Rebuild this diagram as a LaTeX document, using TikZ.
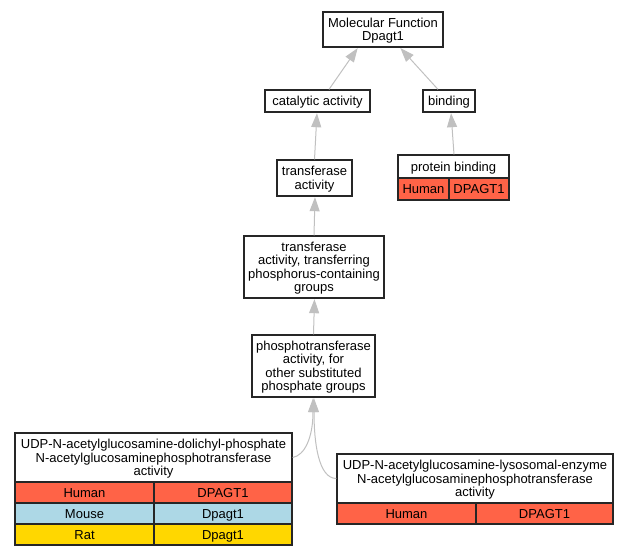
\documentclass[tikz,border=0pt]{standalone}
\usepackage{fontspec}
\setmainfont{Liberation Sans}
\usetikzlibrary{arrows.meta}
\definecolor{humanc}{HTML}{FF6347}
\definecolor{mousec}{HTML}{ADD8E6}
\definecolor{ratc}{HTML}{FFD700}
\definecolor{edgec}{HTML}{C0C0C0}
\newcommand\lowtxt[1]{\raisebox{-1.8pt}[\height][\depth]{\begin{tabular}{@{}c@{}}#1\end{tabular}}}
\tikzset{
  box/.style={draw=black!85, line width=1.2pt, fill=white, align=center, inner sep=0pt,
    font=\fontsize{13}{13.6}\selectfont},
  cell/.style={box},
  isa/.style={draw=edgec, line width=1pt, -{Triangle[length=14pt,width=10pt]}, shorten >=0.6pt}
}
\begin{document}
\begin{tikzpicture}[x=1pt,y=-1pt]
\useasboundingbox (0,0) rectangle (628,557);
% plain term nodes
\node[box, minimum width=120pt, minimum height=35pt] (mf) at (383,29.5) {\lowtxt{Molecular Function\\Dpagt1}};
\node[box, minimum width=105pt, minimum height=22pt] (cat) at (317.5,101) {\lowtxt{catalytic activity}};
\node[box, minimum width=52pt, minimum height=22pt] (bind) at (449,101) {\lowtxt{binding}};
\node[box, minimum width=75pt, minimum height=36pt] (tra) at (314.5,178) {\lowtxt{transferase\\activity}};
\node[box, minimum width=140pt, minimum height=62pt] (trp) at (314,267) {\lowtxt{transferase\\activity, transferring\\phosphorus-containing\\groups}};
\node[box, minimum width=123pt, minimum height=62pt] (pho) at (313.5,366) {\lowtxt{phosphotransferase\\activity, for\\other substituted\\phosphate groups}};
% protein binding table
\node[box, minimum width=111pt, minimum height=23pt] (pbh) at (453.5,166.5) {\lowtxt{protein binding}};
\node[cell, fill=humanc, minimum width=51pt, minimum height=22pt] (pbhu) at (423.5,189) {\lowtxt{Human}};
\node[cell, fill=humanc, minimum width=60pt, minimum height=22pt] (pbhg) at (479,189) {\lowtxt{DPAGT1}};
% UDP dolichyl table
\node[box, minimum width=277pt, minimum height=49pt] (ua) at (153.5,457.5) {\lowtxt{UDP-N-acetylglucosamine-dolichyl-phosphate\\N-acetylglucosaminephosphotransferase\\activity}};
\node[cell, fill=humanc, minimum width=139pt, minimum height=21pt] (uahu) at (84.5,492.5) {\lowtxt{Human}};
\node[cell, fill=humanc, minimum width=138pt, minimum height=21pt] (uahg) at (223,492.5) {\lowtxt{DPAGT1}};
\node[cell, fill=mousec, minimum width=139pt, minimum height=21pt] (uamo) at (84.5,513.5) {\lowtxt{Mouse}};
\node[cell, fill=mousec, minimum width=138pt, minimum height=21pt] (uamg) at (223,513.5) {\lowtxt{Dpagt1}};
\node[cell, fill=ratc, minimum width=139pt, minimum height=21pt] (uara) at (84.5,534.5) {\lowtxt{Rat}};
\node[cell, fill=ratc, minimum width=138pt, minimum height=21pt] (uarg) at (223,534.5) {\lowtxt{Dpagt1}};
% UDP lysosomal table
\node[box, minimum width=276pt, minimum height=49pt] (ub) at (475,478.5) {\lowtxt{UDP-N-acetylglucosamine-lysosomal-enzyme\\N-acetylglucosaminephosphotransferase\\activity}};
\node[cell, fill=humanc, minimum width=139pt, minimum height=21pt] (ubhu) at (406.5,513.5) {\lowtxt{Human}};
\node[cell, fill=humanc, minimum width=137pt, minimum height=21pt] (ubhg) at (544.5,513.5) {\lowtxt{DPAGT1}};
% edges
\draw[isa] ([xshift=11.5pt]cat.north) -- ([xshift=-25pt]mf.south);
\draw[isa] ([xshift=-11pt]bind.north) -- ([xshift=17pt]mf.south);
\draw[isa] (tra.north) -- ([xshift=-0.5pt]cat.south);
\draw[isa] ([xshift=0.5pt]pbh.north) -- ([xshift=2pt]bind.south);
\draw[isa] (trp.north) -- ([xshift=0.5pt]tra.south);
\draw[isa] (pho.north) -- ([xshift=0.5pt]trp.south);
\draw[isa] (ua.east) .. controls +(12,-2) and +(0,40) .. ([xshift=-0.5pt]pho.south);
\draw[isa] (ub.west) .. controls +(-18,0) and +(0,45) .. ([xshift=0.5pt]pho.south);
\end{tikzpicture}
\end{document}
